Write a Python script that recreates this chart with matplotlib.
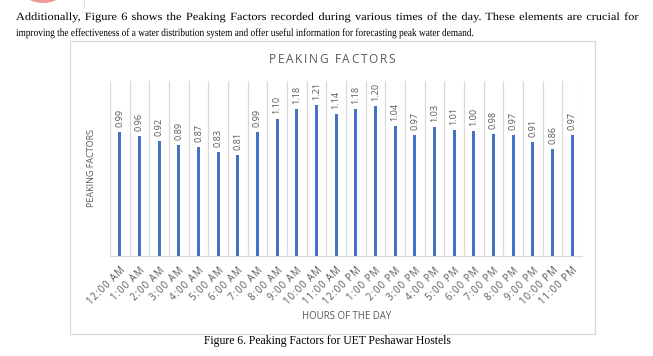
import matplotlib
matplotlib.use('Agg')
import matplotlib.pyplot as plt
from matplotlib.patches import Rectangle, Ellipse, PathPatch
from matplotlib.lines import Line2D
from matplotlib.textpath import TextPath
from matplotlib.font_manager import FontProperties
from matplotlib.transforms import Affine2D
import numpy as np

# ---------------- data ----------------
hours = ['12:00 AM', '1:00 AM', '2:00 AM', '3:00 AM', '4:00 AM', '5:00 AM',
         '6:00 AM', '7:00 AM', '8:00 AM', '9:00 AM', '10:00 AM', '11:00 AM',
         '12:00 PM', '1:00 PM', '2:00 PM', '3:00 PM', '4:00 PM', '5:00 PM',
         '6:00 PM', '7:00 PM', '8:00 PM', '9:00 PM', '10:00 PM', '11:00 PM']
peaking_factors = [0.99, 0.96, 0.92, 0.89, 0.87, 0.83, 0.81, 0.99, 1.10, 1.18,
                   1.21, 1.14, 1.18, 1.20, 1.04, 0.97, 1.03, 1.01, 1.00, 0.98,
                   0.97, 0.91, 0.86, 0.97]
chart_title = 'PEAKING FACTORS'
x_title = 'HOURS OF THE DAY'
y_title = 'PEAKING FACTORS'
para1 = ("Additionally, Figure 6 shows the Peaking Factors recorded during various "
         "times of the day. These elements are crucial for")
para2 = ("improving the effectiveness of a water distribution system and offer "
         "useful information for forecasting peak water demand.")
caption = 'Figure 6. Peaking Factors for UET Peshawar Hostels'

# ---------------- figure ----------------
W, H = 653, 356
fig = plt.figure(figsize=(W / 100, H / 100), dpi=100)
fig.patch.set_facecolor('white')
renderer = fig.canvas.get_renderer()

GREY = '#595959'
GRID = '#d9d9d9'
BLUE = '#4472C4'
SANS = ['Open Sans', 'DejaVu Sans']
SERIF = ['Liberation Serif', 'DejaVu Serif']


def fx(px):
    return px / W


def fy(py):
    return 1 - py / H


def text_width(s, **kw):
    t = fig.text(0, 0, s, **kw)
    w = t.get_window_extent(renderer).width
    t.remove()
    return w


def fit_size(s, target, base, **kw):
    return base * target / text_width(s, fontsize=base, **kw)


def advance(c, **kw):
    return text_width('H' + c + 'H', **kw) - text_width('HH', **kw)


def spaced_text(x0, x1, yb, s, fs, **kw):
    adv = [advance(c, fontsize=fs, **kw) for c in s]
    track = ((x1 - x0) - sum(adv)) / (len(s) - 1)
    x = x0
    for c, a in zip(s, adv):
        fig.text(fx(x), fy(yb), c, fontsize=fs, ha='left', va='baseline', **kw)
        x += a + track


# stretched serif text drawn as paths (pixel units)
serif_prop = FontProperties(family='Liberation Serif')
EM = 11.0


def tp(s):
    return TextPath((0, 0), s, size=EM, prop=serif_prop)


def draw_path_text(s, x, yb, sx):
    p = tp(s)
    tr = Affine2D().scale(sx, 1).translate(x, H - yb)
    fig.add_artist(PathPatch(p, transform=tr, facecolor='black',
                             edgecolor='none', lw=0))


# decorative pink circle fragment at top-left
fig.add_artist(Ellipse((fx(43), fy(-29)), 64 / W, 64 / H, transform=fig.transFigure,
                       facecolor='#f29a9a', edgecolor='none'))
fig.add_artist(Line2D([fx(84), fx(84)], [fy(0), fy(7)], transform=fig.transFigure,
                      color='#e0e0e0', lw=0.8))

# paragraph text
# line 1: justified, words slightly stretched with small gaps
words = para1.split()
raw = [tp(w).get_extents().width for w in words]
gap1 = 5.0
sx1 = (622 - gap1 * (len(words) - 1)) / sum(raw)
x = 16
for w, r in zip(words, raw):
    draw_path_text(w, x, 20, sx1)
    x += r * sx1 + gap1
# line 2: condensed, left aligned
sx2 = 457 / tp(para2).get_extents().width
draw_path_text(para2, 16, 36, sx2)

# chart frame
fig.add_artist(Rectangle((fx(70), fy(334)), (595 - 70) / W, (334 - 41) / H,
                         transform=fig.transFigure, facecolor='none',
                         edgecolor=GRID, lw=0.9))

# chart title (letter spaced)
spaced_text(269, 395, 63, chart_title, 8.6, family=SANS, color=GREY)

# axes
ax = fig.add_axes([fx(110), fy(256), (582 - 110) / W, (256 - 81) / H])
xs = np.arange(len(hours))
ax.bar(xs, peaking_factors, width=0.16, color=BLUE, zorder=3)
ax.set_xlim(-0.5, len(hours) - 0.5)
ax.set_ylim(0, 1.4)
for b in np.arange(-0.5, len(hours), 1):
    ax.axvline(b, color=GRID, lw=0.9, zorder=1)
for s in ['top', 'right', 'left']:
    ax.spines[s].set_visible(False)
ax.spines['bottom'].set_color(GRID)
ax.spines['bottom'].set_linewidth(0.9)
ax.set_yticks([])
ax.set_xticks(xs)
ax.set_xticklabels(['\u200a'.join(list(h)) for h in hours], rotation=45,
                   ha='right', va='top', rotation_mode='anchor', fontsize=6.9,
                   color=GREY, family=SANS)
ax.tick_params(axis='x', length=0, pad=6.5)

for i, v in enumerate(peaking_factors):
    ax.annotate(f'{v:.2f}', (i, v), xytext=(0, 3.5), textcoords='offset points',
                rotation=90, ha='center', va='bottom', fontsize=6.6, color=GREY,
                family=SANS)

# axis titles
fs_x = fit_size(x_title, 90, 7, family=SANS)
fig.text(fx(347), fy(319), x_title, fontsize=fs_x, family=SANS, color=GREY,
         ha='center', va='baseline')
fs_y = fit_size(y_title, 79, 7, family=SANS)
fig.text(fx(92), fy(168), y_title, fontsize=fs_y, family=SANS, color=GREY,
         ha='center', va='center', rotation=90)

# caption
fs_cap = fit_size(caption, 247, 8, family=SERIF)
fig.text(fx(327), fy(344), caption, fontsize=fs_cap, family=SERIF, color='black',
         ha='center', va='baseline')

fig.savefig('out.png', dpi=100, facecolor='white')
